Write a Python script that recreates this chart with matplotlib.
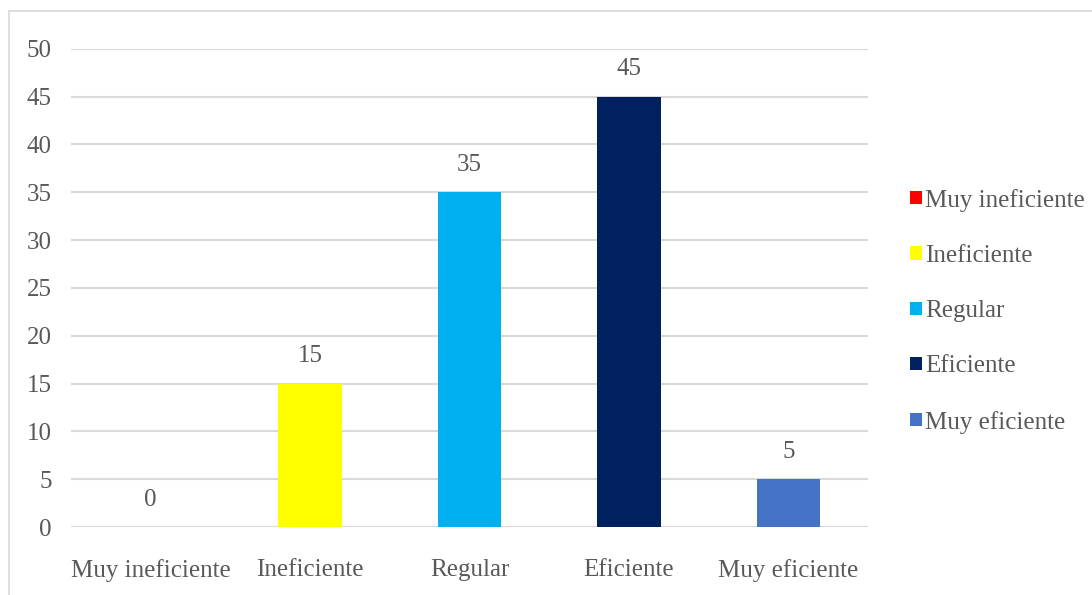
import matplotlib
matplotlib.use('Agg')
import matplotlib.pyplot as plt
from matplotlib.patches import Rectangle, Patch

# Datos
categorias = ['Muy ineficiente', 'Ineficiente', 'Regular', 'Eficiente', 'Muy eficiente']
valores = [0, 15, 35, 45, 5]
colores = ['#FF0000', '#FFFF00', '#00B0F0', '#002060', '#4472C4']
ticks_y = [0, 5, 10, 15, 20, 25, 30, 35, 40, 45, 50]

gris = '#595959'
plt.rcParams['font.family'] = ['Liberation Serif', 'DejaVu Serif']

fig = plt.figure(figsize=(10.92, 5.95), dpi=100)
ax = fig.add_axes([0.065, 0.114, 0.73, 0.804])

x = range(len(categorias))
barras = ax.bar(x, valores, width=0.4, color=colores, zorder=3)

for xi, v in zip(x, valores):
    ax.annotate(str(v), (xi, v), xytext=(0, 12), textcoords='offset points',
                ha='center', va='bottom', fontsize=18, color=gris)

ax.set_ylim(0, 50)
ax.set_xlim(-0.5, 4.5)
ax.set_yticks(ticks_y)
ax.set_xticks(list(x))
ax.set_xticklabels(categorias)
ax.yaxis.grid(True, color='#D9D9D9', linewidth=1.5, zorder=0)
ax.tick_params(axis='both', length=0, labelsize=18, labelcolor=gris)
ax.tick_params(axis='y', pad=14)
ax.tick_params(axis='x', pad=23)
for s in ax.spines.values():
    s.set_visible(False)

handles = [Patch(facecolor=c, label=l) for c, l in zip(colores, categorias)]
fig.legend(handles=handles, loc='center left', bbox_to_anchor=(0.813, 0.477),
           frameon=False, fontsize=18, labelcolor=gris, handlelength=0.45,
           handleheight=0.45, handletextpad=0.15, labelspacing=1.33)

# borde del gráfico
fig.patches.append(Rectangle((0.008, -0.01), 1.1, 0.992, transform=fig.transFigure,
                             fill=False, edgecolor='#D9D9D9', linewidth=1.2))

fig.savefig('out.png', dpi=100)
